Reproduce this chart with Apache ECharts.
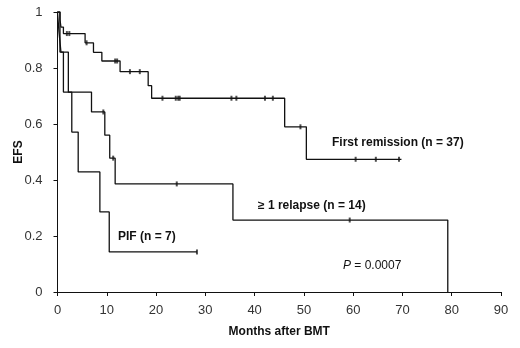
<!DOCTYPE html>
<html>
<head>
<meta charset="utf-8">
<script src="https://cdn.jsdelivr.net/npm/echarts@6/dist/echarts.min.js"></script>
<style>
  html, body { margin: 0; padding: 0; background: #fff; }
  #chart { width: 520px; height: 348px; }
</style>
</head>
<body>
<div id="chart"></div>
<script>
// Kaplan-Meier steps (months, EFS)
const firstTimes = [0, 0.5, 0.7, 1.2, 5.6, 7.3, 9.0, 12.7, 18.4, 19.1, 46.1, 50.5, 69.8]
const firstSurv = [1, 0.973, 0.946, 0.923, 0.89, 0.856, 0.825, 0.787, 0.737, 0.692, 0.59, 0.474, 0.474]
const firstCensored = [1.9, 2.4, 5.9, 11.7, 12.1, 14.7, 16.7, 21.3, 24.0, 24.5, 24.8, 35.3, 36.3, 42.1, 43.7, 49.3, 60.5, 64.6, 69.3]

const relapseTimes = [0, 0.3, 0.7, 1.2, 6.9, 9.6, 10.6, 11.7, 35.6, 79.2]
const relapseSurv = [1, 0.929, 0.857, 0.714, 0.643, 0.56, 0.478, 0.386, 0.257, 0]
const relapseCensored = [9.3, 11.3, 24.2, 59.3]

const pifTimes = [0, 0.5, 2.2, 2.9, 4.2, 8.6, 10.5, 28.3]
const pifSurv = [1, 0.857, 0.714, 0.571, 0.429, 0.286, 0.143, 0.143]
const pifCensored = [28.3]

const xTicks = [0, 10, 20, 30, 40, 50, 60, 70, 80, 90]

const font = 'Liberation Sans, Arial, sans-serif'

const stepData = (times, surv) => times.map((t, i) => [t, surv[i]])

// survival value at a censor time, taken from the step curve
const censorData = (times, surv, cens) =>
  cens.map((c) => {
    let s = surv[0]
    times.forEach((t, i) => {
      if (t <= c) {
        s = surv[i]
      }
    })
    return [c, s]
  })

const lineSeries = (name, times, surv) => ({
  name: name,
  type: 'line',
  step: 'end',
  showSymbol: false,
  silent: true,
  lineStyle: { color: '#111', width: 1.3 },
  data: stepData(times, surv),
  animation: false,
})

const censorSeries = (name, times, surv, cens) => ({
  name: name + ' censored',
  type: 'scatter',
  symbol: 'rect',
  symbolSize: [2, 5],
  itemStyle: { color: '#222' },
  data: censorData(times, surv, cens),
  animation: false,
})

const chart = echarts.init(document.getElementById('chart'))
chart.setOption({
  backgroundColor: '#fff',
  grid: {
    left: 57.5,
    right: 19,
    top: 12,
    bottom: 56,
    containLabel: false,
    outerBoundsMode: 'none',
  },
  xAxis: {
    type: 'value',
    min: xTicks[0],
    max: xTicks[xTicks.length - 1],
    interval: 10,
    name: 'Months after BMT',
    nameLocation: 'middle',
    nameGap: 34,
    nameMoveOverlap: false,
    nameTextStyle: {
      color: '#111',
      fontFamily: font,
      fontSize: 12,
      fontWeight: 'bold',
    },
    axisLine: { lineStyle: { color: '#111', width: 1 } },
    axisTick: { show: true, length: 4, lineStyle: { color: '#111' } },
    axisLabel: {
      color: '#333',
      fontFamily: font,
      fontSize: 13,
      margin: 12,
    },
    splitLine: { show: false },
  },
  yAxis: {
    type: 'value',
    min: 0,
    max: 1,
    interval: 0.2,
    name: 'EFS',
    nameLocation: 'middle',
    nameRotate: 90,
    nameGap: 33,
    nameMoveOverlap: false,
    nameTextStyle: {
      color: '#111',
      fontFamily: font,
      fontSize: 12,
      fontWeight: 'bold',
    },
    axisLine: { show: true, lineStyle: { color: '#111', width: 1 } },
    axisTick: { show: true, length: 4, lineStyle: { color: '#111' } },
    axisLabel: {
      color: '#333',
      fontFamily: font,
      fontSize: 13,
      margin: 15,
    },
    splitLine: { show: false },
  },
  graphic: [
    {
      type: 'text',
      left: 332,
      top: 137,
      style: {
        text: 'First remission (n = 37)',
        fontFamily: font,
        fontSize: 12,
        fontWeight: 'bold',
        fill: '#111',
      },
    },
    {
      type: 'text',
      left: 258,
      top: 200,
      style: {
        text: '≥ 1 relapse (n = 14)',
        fontFamily: font,
        fontSize: 12,
        fontWeight: 'bold',
        fill: '#111',
      },
    },
    {
      type: 'text',
      left: 118,
      top: 231,
      style: {
        text: 'PIF (n = 7)',
        fontFamily: font,
        fontSize: 12,
        fontWeight: 'bold',
        fill: '#111',
      },
    },
    {
      type: 'text',
      left: 343,
      top: 260,
      style: {
        rich: {
          p: { fontFamily: font, fontSize: 12, fontStyle: 'italic', fill: '#111' },
          v: { fontFamily: font, fontSize: 12, fill: '#111' },
        },
        text: '{p|P}{v| = 0.0007}',
      },
    },
  ],
  series: [
    lineSeries('First remission', firstTimes, firstSurv),
    lineSeries('≥ 1 relapse', relapseTimes, relapseSurv),
    lineSeries('PIF', pifTimes, pifSurv),
    censorSeries('First remission', firstTimes, firstSurv, firstCensored),
    censorSeries('≥ 1 relapse', relapseTimes, relapseSurv, relapseCensored),
    censorSeries('PIF', pifTimes, pifSurv, pifCensored),
  ],
})
</script>
</body>
</html>
